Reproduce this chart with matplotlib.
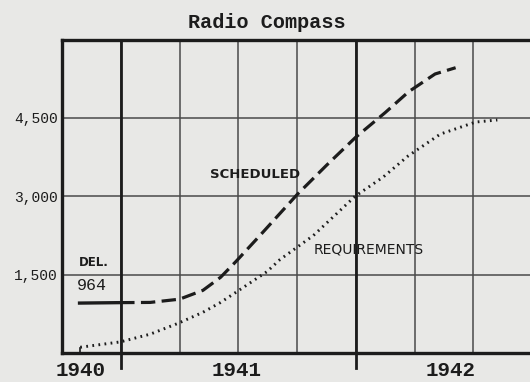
import matplotlib

matplotlib.use("Agg")
import matplotlib.pyplot as plt
from matplotlib.transforms import blended_transform_factory

# x runs in chart cells (one grid column each), y in units
delivered_x = [0.27, 0.99]
delivered_y = [955, 964]

scheduled_x = [0.99, 1.5, 2.0, 2.4, 2.7, 2.96, 3.37, 4.0, 4.5, 5.0, 5.5, 5.9, 6.35, 6.7]
scheduled_y = [964, 968, 1030, 1200, 1450, 1750, 2250, 3030, 3590, 4130, 4600, 5000, 5340, 5460]

required_x = [0.31, 0.99, 1.5, 1.98, 2.4, 2.69, 2.95, 3.49, 3.71, 4.28, 4.99, 5.47, 5.89, 6.44, 7.04, 7.41]
required_y = [110, 212, 360, 570, 780, 962, 1154, 1558, 1788, 2250, 3000, 3370, 3770, 4190, 4420, 4460]

y_ticks = [1500, 3000, 4500]
y_labels = ["1,500", "3,000", "4,500"]
year_pos = [0.31, 2.98, 6.61]
year_labels = ["1940", "1941", "1942"]

PAPER = "#e8e8e6"
INK = "#1c1c1c"
MONO = "Liberation Mono"

fig = plt.figure(figsize=(5.3, 3.82), dpi=100, facecolor=PAPER)
ax = fig.add_axes([62 / 530, 29 / 382, 470 / 530, 313.5 / 382])
ax.set_facecolor(PAPER)
ax.set_xlim(0, 8)
ax.set_ylim(0, 6000)

# light grid
ax.set_xticks(range(1, 8))
ax.set_xticklabels([])
ax.set_yticks(y_ticks)
ax.set_yticklabels(y_labels, fontfamily=MONO, fontsize=10.5, color=INK)
ax.tick_params(axis="both", length=0)
ax.tick_params(axis="y", pad=3)
ax.grid(True, color="#4a4a4a", linewidth=1.1)
ax.set_axisbelow(True)

for side in ["left", "top", "bottom"]:
    ax.spines[side].set_linewidth(2.4)
    ax.spines[side].set_color(INK)
ax.spines["right"].set_visible(False)

# heavier division lines that poke below the baseline
for xv in [1, 5]:
    ax.axvline(xv, ymin=-0.047, ymax=1, color=INK, linewidth=2.0, clip_on=False, zorder=1.5)
ax.plot([0.31, 0.31], [0, 90], color=INK, linewidth=1.2)

ax.plot(delivered_x, delivered_y, color=INK, linewidth=2.4, solid_capstyle="butt", zorder=3)
ax.plot(scheduled_x, scheduled_y, color=INK, linewidth=2.3, dashes=(4.5, 2), zorder=3)
ax.plot(required_x, required_y, color=INK, linewidth=2.1, dashes=(0.6, 1.5), zorder=3)

ax.text(3.29, 4500 - 1500 * (173 - 117) / 78, "SCHEDULED", fontsize=9.5, color=INK,
        ha="center", va="center", fontweight="bold", family="DejaVu Sans")
ax.text(5.22, 1500 + 1500 * (273 - 248) / 78, "REQUIREMENTS", fontsize=10, color=INK,
        ha="center", va="center", family="DejaVu Sans")
ax.text(0.28, 1500 + 1500 * (273 - 261) / 78, "DEL.", fontsize=8.5, color=INK,
        ha="left", va="center", family="DejaVu Sans", fontweight="bold")
ax.text(0.25, 1500 - 1500 * (284 - 273) / 78, "964", fontsize=12, color=INK,
        ha="left", va="center", family=MONO)

tr = blended_transform_factory(ax.transData, ax.transAxes)
for xv, lab in zip(year_pos, year_labels):
    ax.text(xv, -0.055, lab, transform=tr, fontsize=15, color=INK,
            ha="center", va="center", family=MONO, fontweight="bold")

fig.text(267 / 530, 1 - 22 / 382, "Radio Compass", fontsize=14.5, color=INK,
         ha="center", va="center", family=MONO, fontweight="bold")

fig.savefig("out.png", dpi=100, facecolor=fig.get_facecolor())
